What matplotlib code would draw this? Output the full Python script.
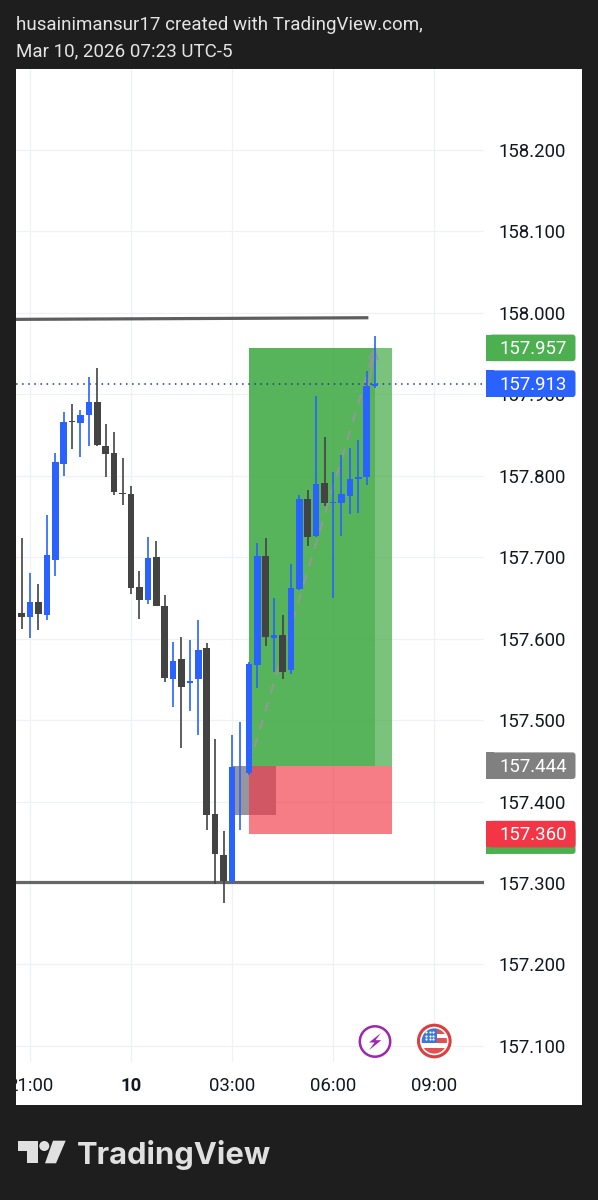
# Imports
import matplotlib
matplotlib.use("Agg")
import matplotlib.pyplot as plt
from matplotlib.patches import Circle, FancyBboxPatch, Polygon, Rectangle
from matplotlib.transforms import Bbox

# Config
WIDTH, HEIGHT = 598, 1200
DARK_BG = "#1E1E1E"
TEXT_COLOR = "#131722"
UP_COLOR = "#2962FF"
DOWN_COLOR = "#434343"
GRID_COLOR = "#EFF1F6"
BAR_MINUTES = 15

plt.rcParams["font.family"] = ["Roboto", "DejaVu Sans"]

# 15 minute candles, index 26 is the 03:00 bar
opens = [157.742, 157.632, 157.626, 157.645, 157.629, 157.697, 157.815, 157.867, 157.865, 157.875,
         157.890, 157.836, 157.828, 157.779, 157.778, 157.664, 157.647, 157.700, 157.640, 157.551,
         157.575, 157.546, 157.551, 157.589, 157.385, 157.334, 157.302, 157.442, 157.435, 157.568,
         157.702, 157.601, 157.604, 157.562, 157.661, 157.771, 157.726, 157.791, 157.766, 157.766,
         157.775, 157.796, 157.798, 157.910]
highs = [157.742, 157.724, 157.681, 157.667, 157.752, 157.828, 157.878, 157.888, 157.881, 157.921,
         157.932, 157.864, 157.854, 157.822, 157.787, 157.683, 157.725, 157.720, 157.654, 157.596,
         157.602, 157.598, 157.623, 157.595, 157.477, 157.364, 157.482, 157.498, 157.571, 157.717,
         157.724, 157.650, 157.629, 157.692, 157.776, 157.782, 157.898, 157.848, 157.804, 157.825,
         157.834, 157.844, 157.928, 157.972]
lows = [157.630, 157.612, 157.601, 157.611, 157.623, 157.677, 157.800, 157.833, 157.823, 157.836,
        157.836, 157.798, 157.776, 157.764, 157.655, 157.624, 157.642, 157.640, 157.547, 157.516,
        157.466, 157.511, 157.482, 157.365, 157.299, 157.276, 157.300, 157.365, 157.432, 157.540,
        157.591, 157.559, 157.550, 157.557, 157.660, 157.714, 157.725, 157.763, 157.650, 157.726,
        157.753, 157.754, 157.789, 157.908]
closes = [157.630, 157.627, 157.645, 157.630, 157.703, 157.817, 157.866, 157.866, 157.875, 157.891,
          157.838, 157.827, 157.780, 157.777, 157.662, 157.647, 157.699, 157.640, 157.552, 157.573,
          157.541, 157.548, 157.586, 157.383, 157.335, 157.302, 157.443, 157.443, 157.569, 157.702,
          157.602, 157.605, 157.559, 157.662, 157.771, 157.725, 157.790, 157.766, 157.768, 157.778,
          157.796, 157.799, 157.910, 157.913]
FIRST_BAR_INDEX = -26

price_ticks = [157.1, 157.2, 157.3, 157.4, 157.5, 157.6, 157.7, 157.8, 157.9, 158.0, 158.1, 158.2]
time_ticks = [-6, -3, 0, 3, 6]
time_labels = ["21:00", "10", "03:00", "06:00", "09:00"]

# Long position tool
target_price = 157.957
entry_price = 157.444
stop_price = 157.360
stop_tag_price = 157.352
last_price = 157.913
position_start, position_now, position_end = 0.5, 4.25, 4.75

# Grey box and the two drawn levels
box_start, box_end = 0.0, 1.3
box_low = 157.384
upper_level = [157.992, 157.994]
upper_level_times = [-6.42, 4.05]
lower_level = 157.301


def bar_time(i):
    return (i + FIRST_BAR_INDEX) * BAR_MINUTES / 60


fig = plt.figure(figsize=(WIDTH / 100, HEIGHT / 100), dpi=100, facecolor=DARK_BG)

# White panel behind the chart and both scales
panel = fig.add_axes([16 / WIDTH, 95 / HEIGHT, 566 / WIDTH, 1036 / HEIGHT], zorder=-1, facecolor="white")
panel.set_xticks([])
panel.set_yticks([])
for spine in panel.spines.values():
    spine.set_visible(False)

# Price pane
ax = fig.add_axes([16 / WIDTH, 138 / HEIGHT, 468 / WIDTH, 993 / HEIGHT], zorder=1)
ax.patch.set_alpha(0)
ax.set_xlim(-6.415, 7.484)
ax.set_ylim(157.0802, 158.2994)
for spine in ax.spines.values():
    spine.set_visible(False)

ax.set_axisbelow(True)
ax.grid(True, color=GRID_COLOR, linewidth=0.9)
ax.yaxis.tick_right()
ax.set_yticks(price_ticks)
ax.set_yticklabels([f"{p:.3f}" for p in price_ticks])
ax.set_xticks(time_ticks)
ax.set_xticklabels(time_labels)
ax.tick_params(axis="y", length=0, pad=10.8, labelsize=13.4, labelcolor=TEXT_COLOR)
ax.tick_params(axis="x", length=0, pad=10.5, labelsize=13.4, labelcolor=TEXT_COLOR)

# The first time label runs under the dark frame
clip = Bbox.from_extents(16, 0, WIDTH, HEIGHT)
for label, text in zip(ax.get_xticklabels(), time_labels):
    label.set_clip_box(clip)
    label.set_clip_on(True)
    if text == "10":
        label.set_fontweight("bold")

# Position tool fills, the grid stays faintly visible through them
ax.add_patch(Rectangle((box_start, box_low), box_end - box_start, entry_price - box_low,
                       facecolor="#96969E", edgecolor="none", zorder=1))
ax.add_patch(Rectangle((position_start, entry_price), position_end - position_start, target_price - entry_price,
                       facecolor="#4CAF50", alpha=0.75, edgecolor="none", zorder=2))
ax.add_patch(Rectangle((position_start, entry_price), position_now - position_start, target_price - entry_price,
                       facecolor="#4CAF50", alpha=0.75, edgecolor="none", zorder=2))
ax.add_patch(Rectangle((position_start, stop_price), position_end - position_start, entry_price - stop_price,
                       facecolor="#F23645", alpha=0.65, edgecolor="none", zorder=2))

# Dashed path from entry to target with an open arrow head
ax.plot([position_start, position_now], [entry_price, target_price], color="#8F9A90", linewidth=1.6,
        linestyle=(0, (4.5, 4)), zorder=3)
ax.annotate("", xy=(position_now, target_price), xytext=(position_now - 0.25, target_price - 0.06),
            arrowprops=dict(arrowstyle="->", color="#8F9A90", linewidth=1.4, linestyle="-",
                            shrinkA=0, shrinkB=0, mutation_scale=16), zorder=3)

# Horizontal levels
ax.plot(upper_level_times, upper_level, color="#5E5E5E", linewidth=2.3, zorder=3, solid_capstyle="butt")
ax.axhline(lower_level, color="#666666", linewidth=2.3, zorder=3)
ax.axhline(last_price, color="#1A3E8C", linewidth=1.1, linestyle=(0, (1, 3)), zorder=3)

# Candles
for i in range(len(opens)):
    color = UP_COLOR if closes[i] >= opens[i] else DOWN_COLOR
    t = bar_time(i)
    ax.vlines(t, lows[i], highs[i], color=color, linewidth=1.2, zorder=4)
    ax.bar(t, abs(closes[i] - opens[i]), bottom=min(opens[i], closes[i]), width=0.195,
           color=color, linewidth=0, zorder=4)

# Overlay in pixel coordinates for the tags, icons and captions
overlay = fig.add_axes([0, 0, 1, 1], zorder=5)
overlay.set_xlim(0, WIDTH)
overlay.set_ylim(HEIGHT, 0)
overlay.axis("off")


def price_to_px(price):
    px = ax.transData.transform((0, price))
    return overlay.transData.inverted().transform(px)[1]


def price_tag(price, color, z):
    # later tags cover the earlier ones, text included
    y = price_to_px(price)
    overlay.add_patch(FancyBboxPatch((489, y - 13.3), 86.5, 26.6, boxstyle="round,pad=0,rounding_size=3",
                                     facecolor=color, edgecolor="none", zorder=z))
    overlay.add_patch(Rectangle((486, y - 13.3), 8, 26.6, facecolor=color, edgecolor="none", zorder=z))
    overlay.text(567, y + 1.2, f"{price:.3f}", color="white", fontsize=13.4,
                 ha="right", va="center", zorder=z + 0.5)


price_tag(target_price, "#4CAF50", 5)
price_tag(last_price, UP_COLOR, 6)
price_tag(entry_price, "#808080", 7)
price_tag(stop_tag_price, "#4CAF50", 8)
price_tag(stop_price, "#F23645", 9)

# Header
overlay.text(16, 25, "husainimansur17 created with TradingView.com,", color="#E4E4E4", fontsize=13.5, va="center")
overlay.text(16, 51.5, "Mar 10, 2026 07:23 UTC-5", color="#E4E4E4", fontsize=13.5, va="center")

# Lightning icon
overlay.add_patch(Circle((375, 1041.5), 15.2, facecolor="white", edgecolor="#9C27B0", linewidth=1.8))
overlay.add_patch(Polygon([(381, 1033), (369, 1042.5), (374.5, 1042.5), (369.3, 1050),
                           (381.3, 1040.2), (375.5, 1040.2)], facecolor="#9C27B0", edgecolor="none"))

# Flag icon
overlay.add_patch(Circle((434.3, 1041), 15.8, facecolor="white", edgecolor="#DC3F3F", linewidth=2.2))
flag_clip = Circle((434.3, 1041), 12.6, transform=overlay.transData)
for top, bottom, left in [(1028, 1034, 437), (1038, 1043, 437), (1047.5, 1054, 420)]:
    stripe = overlay.add_patch(Rectangle((left, top), 450 - left, bottom - top, facecolor="#E35050", edgecolor="none"))
    stripe.set_clip_path(flag_clip)
canton = overlay.add_patch(Rectangle((420, 1028), 17.3, 14.5, facecolor="#3C78D8", edgecolor="none"))
canton.set_clip_path(flag_clip)
for star_y in (1032, 1035.5, 1039):
    overlay.scatter([426, 429.5, 433], [star_y] * 3, s=2.5, color="white", linewidths=0, zorder=3)

# Logo
LOGO_COLOR = "#E0E0E0"
overlay.add_patch(Polygon([(18.3, 1140.7), (37.7, 1140.7), (37.7, 1163.3), (27.3, 1163.3), (27.3, 1150.7), (18.3, 1150.7)],
                          facecolor=LOGO_COLOR, edgecolor="none"))
overlay.add_patch(Circle((44.3, 1146), 5, facecolor=LOGO_COLOR, edgecolor="none"))
overlay.add_patch(Polygon([(53, 1140.7), (65.7, 1140.7), (56, 1163.3), (45, 1163.3)], facecolor=LOGO_COLOR, edgecolor="none"))
overlay.text(76.5, 1154.5, "TradingView", color=LOGO_COLOR, fontsize=22.3, fontweight="bold",
             family=["Inter", "DejaVu Sans"], va="center")

fig.savefig("out.png", dpi=100, facecolor=DARK_BG)
plt.close(fig)
